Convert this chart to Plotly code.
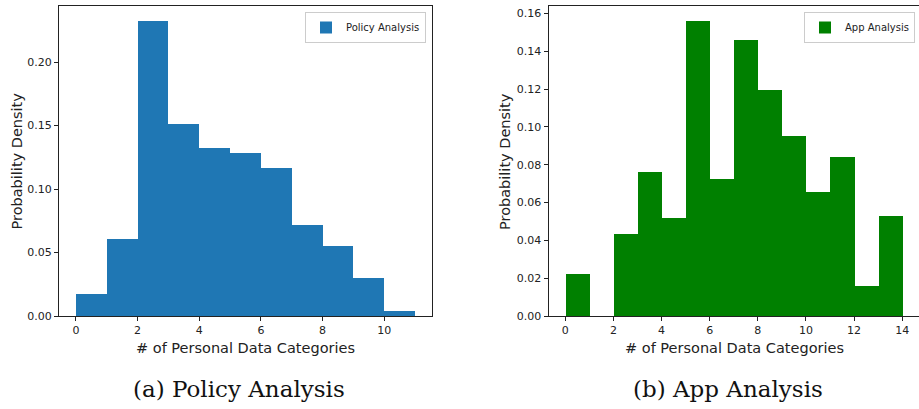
import plotly.graph_objects as go

# ---- data ----
policy_edges = [0, 1, 2, 3, 4, 5, 6, 7, 8, 9, 10, 11]
policy_density = [0.0174, 0.0610, 0.2326, 0.1513, 0.1320, 0.1287, 0.1168, 0.0716, 0.0550, 0.0303, 0.0040]

app_edges = [0, 1, 2, 3, 4, 5, 6, 7, 8, 9, 10, 11, 12, 13, 14]
app_density = [0.0224, 0.0, 0.0433, 0.0761, 0.0518, 0.1561, 0.0722, 0.1459, 0.1194, 0.0952, 0.0655, 0.0842, 0.0159, 0.0530]

policy_ticks = [0, 2, 4, 6, 8, 10]
policy_yticks = [0.00, 0.05, 0.10, 0.15, 0.20]
app_ticks = [0, 2, 4, 6, 8, 10, 12, 14]
app_yticks = [0.00, 0.02, 0.04, 0.06, 0.08, 0.10, 0.12, 0.14, 0.16]

x_title = "# of Personal Data Categories"
y_title = "Probability Density"
captions = ["(a) Policy Analysis", "(b) App Analysis"]

W, H = 919, 409


def centers(edges):
    return [(a + b) / 2 for a, b in zip(edges[:-1], edges[1:])]


def widths(edges):
    return [b - a for a, b in zip(edges[:-1], edges[1:])]


fig = go.Figure()
fig.add_trace(go.Bar(
    x=centers(policy_edges), y=policy_density, width=widths(policy_edges),
    marker=dict(color="#1f77b4", line=dict(width=0)),
    name="Policy Analysis", xaxis="x", yaxis="y", legend="legend",
))
fig.add_trace(go.Bar(
    x=centers(app_edges), y=app_density, width=widths(app_edges),
    marker=dict(color="#008000", line=dict(width=0)),
    name="App Analysis", xaxis="x2", yaxis="y2", legend="legend2",
))

tickfont = dict(family="DejaVu Sans", size=11, color="#222222")
axis_common = dict(
    showgrid=False, zeroline=False, showline=True, linecolor="#222222", linewidth=1,
    ticks="outside", ticklen=4, tickwidth=1, tickcolor="#222222",
    tickfont=tickfont, automargin=False,
)

# pixel layout
L1, R1 = 59, 432
L2, R2 = 548.5, 919.5
TOP, BOT = 6, 316

pmax = max(policy_density)
amax = max(app_density)

legend_common = dict(xanchor="right", yanchor="top",
                     bgcolor="rgba(255,255,255,0.8)", bordercolor="#cccccc", borderwidth=1,
                     font=dict(family="DejaVu Sans", size=10, color="#222222"), itemwidth=30)

fig.update_layout(
    width=W, height=H,
    margin=dict(l=0, r=0, t=0, b=0),
    paper_bgcolor="white", plot_bgcolor="white",
    bargap=0,
    xaxis=dict(domain=[L1 / W, R1 / W], range=[-0.55, 11.55], tickvals=policy_ticks,
               anchor="y", mirror=True, **axis_common),
    yaxis=dict(domain=[1 - BOT / H, 1 - TOP / H], range=[0, pmax * 1.05], tickvals=policy_yticks,
               tickformat=".2f", anchor="x", mirror=True, **axis_common),
    xaxis2=dict(domain=[L2 / W, min(R2 / W, 1.0)], range=[-0.7, 14.7], tickvals=app_ticks,
                anchor="y2", mirror=True, **axis_common),
    yaxis2=dict(domain=[1 - BOT / H, 1 - TOP / H], range=[0, amax * 1.05], tickvals=app_yticks,
                tickformat=".2f", anchor="x2", mirror=False, **axis_common),
    legend=dict(x=426 / W, y=1 - 12 / H, **legend_common),
    legend2=dict(x=915 / W, y=1 - 12 / H, **legend_common),
    showlegend=True,
)

title_font = dict(family="DejaVu Sans", size=14.5, color="#222222")
ann = []
# axis titles
for cx in [(L1 + R1) / 2, (L2 + R2) / 2]:
    ann.append(dict(text=x_title, x=cx / W, y=1 - 348 / H, xref="paper", yref="paper",
                    xanchor="center", yanchor="middle", showarrow=False, font=title_font))
for cx in [16.5, 505]:
    ann.append(dict(text=y_title, x=cx / W, y=1 - 161 / H, xref="paper", yref="paper",
                    xanchor="center", yanchor="middle", showarrow=False, font=title_font,
                    textangle=-90))
# captions
cap_font = dict(family="DejaVu Serif", size=23, color="#111111")
for cap, cx in zip(captions, [239, 727.5]):
    ann.append(dict(text=cap, x=cx / W, y=1 - 389 / H, xref="paper", yref="paper",
                    xanchor="center", yanchor="middle", showarrow=False, font=cap_font))
fig.update_layout(annotations=ann)

fig.write_html("out.html")
